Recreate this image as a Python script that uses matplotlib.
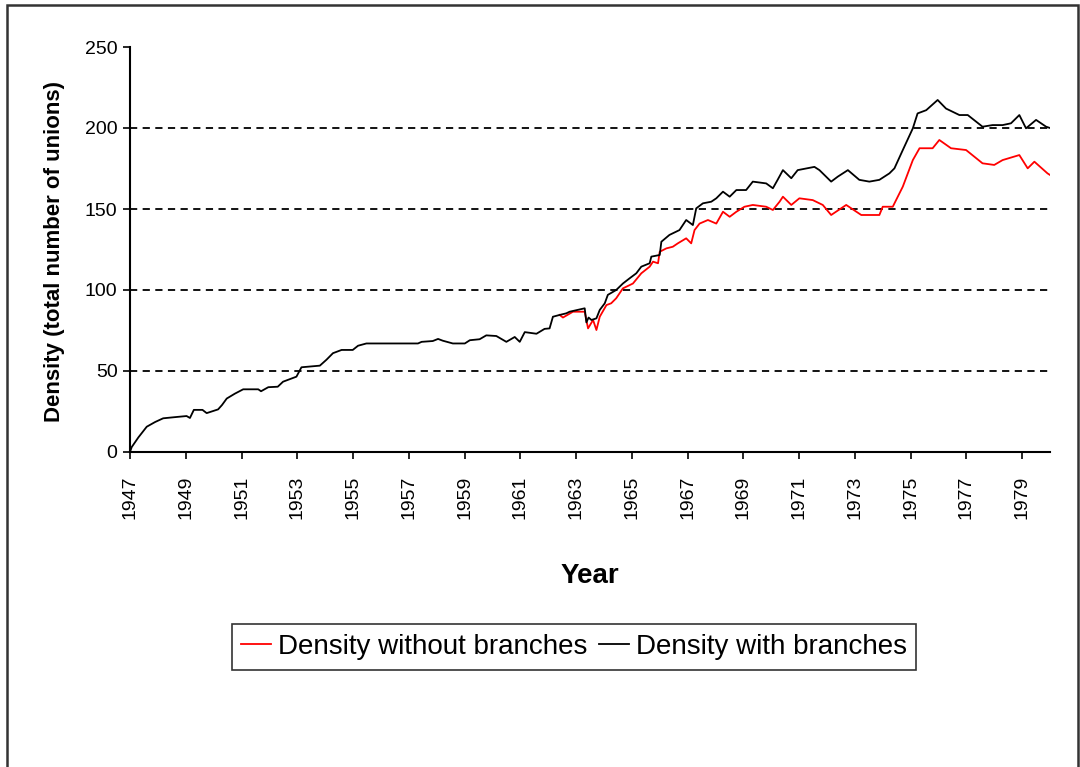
import matplotlib.pyplot as plt
import matplotlib.patches as patches
import numpy as np

plt.rcParams['font.family'] = ['Liberation Sans', 'DejaVu Sans']

# Density with branches (black)
yrs_with = [1947.0, 1947.06, 1947.3, 1947.6, 1947.9, 1948.19, 1948.6, 1949.03, 1949.15, 1949.29,
            1949.6, 1949.75, 1950.16, 1950.3, 1950.47, 1950.76, 1951.06, 1951.6, 1951.7, 1951.96,
            1952.3, 1952.49, 1952.97, 1953.15, 1953.81, 1954.05, 1954.28, 1954.59, 1954.99, 1955.18,
            1955.48, 1956.5, 1957.33, 1957.46, 1957.86, 1958.05, 1958.22, 1958.58, 1959.01, 1959.19,
            1959.54, 1959.78, 1960.14, 1960.5, 1960.8, 1960.98, 1961.16, 1961.58, 1961.87, 1962.05,
            1962.17, 1962.41, 1962.65, 1962.77, 1963.31, 1963.37, 1963.45, 1963.55, 1963.73, 1963.85,
            1964.03, 1964.14, 1964.44, 1964.68, 1964.92, 1965.16, 1965.34, 1965.64, 1965.7, 1966.0,
            1966.06, 1966.35, 1966.71, 1966.95, 1967.19, 1967.31, 1967.55, 1967.85, 1968.03, 1968.27,
            1968.51, 1968.75, 1969.1, 1969.34, 1969.82, 1970.06, 1970.23, 1970.42, 1970.72, 1970.95,
            1971.55, 1971.73, 1972.15, 1972.39, 1972.75, 1973.16, 1973.52, 1973.88, 1974.24, 1974.42,
            1974.72, 1975.08, 1975.25, 1975.56, 1975.97, 1976.27, 1976.75, 1977.05, 1977.58, 1977.94,
            1978.3, 1978.6, 1978.9, 1979.14, 1979.5, 1979.86, 1980.0]
dens_with = [0, 3, 9, 15.6, 18.5, 20.8, 21.5, 22.2, 21, 26,
             26, 24, 26.3, 29, 33, 36, 38.7, 38.7, 37.5, 40,
             40.3, 43.4, 46.5, 52.3, 53.3, 57, 61, 63, 63, 65.6,
             67, 67, 67, 68, 68.5, 69.8, 68.7, 67, 67, 69,
             69.6, 72, 71.6, 68, 71, 68, 74, 73, 76, 76.3,
             83.5, 84.6, 85.6, 86.6, 88.7, 80, 83, 81.5, 82.5, 87.7,
             91.8, 97, 100, 104, 107.2, 110.3, 114.4, 116.5, 120.6, 121.6,
             129.8, 134, 137, 143.2, 140.1, 150.4, 153.5, 154.5, 156.6, 160.7,
             157.6, 161.7, 161.7, 166.9, 165.8, 162.8, 168, 174, 169, 174,
             176, 174, 166.9, 170, 174, 168, 166.9, 168, 172, 175.1,
             186.4, 199.8, 209, 211, 217.3, 212, 208, 208, 200.8, 201.8,
             201.8, 202.9, 208, 199.8, 205, 200.8, 200]

# Density without branches (red), diverges from the black line in 1962
yrs_without = [1962.41, 1962.53, 1962.89, 1963.31, 1963.43, 1963.61, 1963.73, 1963.85, 1964.09, 1964.26,
               1964.44, 1964.68, 1965.04, 1965.34, 1965.64, 1965.76, 1965.94, 1966.0, 1966.24, 1966.47,
               1966.65, 1966.95, 1967.13, 1967.25, 1967.43, 1967.73, 1968.03, 1968.27, 1968.51, 1968.75,
               1969.04, 1969.34, 1969.82, 1970.06, 1970.3, 1970.42, 1970.72, 1971.01, 1971.49, 1971.85,
               1972.15, 1972.69, 1973.23, 1973.88, 1974.0, 1974.36, 1974.72, 1975.08, 1975.32, 1975.79,
               1976.03, 1976.45, 1976.99, 1977.58, 1978.0, 1978.3, 1978.9, 1979.2, 1979.44, 1979.91, 1980.0]
dens_without = [84.6, 83, 86.6, 86.6, 76.3, 81.5, 75.3, 83.5, 90.7, 91.8,
                94.9, 101, 104, 110.3, 114.4, 117.5, 116.5, 123.6, 125.7, 126.7,
                128.8, 131.9, 128.8, 137, 141, 143.2, 141, 148.3, 145.2, 148.3,
                151.4, 152.5, 151.4, 149.4, 154.5, 157.6, 152.5, 156.6, 155.5, 152.5,
                146.3, 152.5, 146.3, 146.3, 151.4, 151.4, 163.8, 180.2, 187.5, 187.5,
                192.6, 187.5, 186.4, 178.2, 177.2, 180.2, 183.3, 175.1, 179.2, 172, 171]

tick_years = list(range(1947, 1980, 2))
y_ticks = [0, 50, 100, 150, 200, 250]

W, H = 1080, 767
fig = plt.figure(figsize=(W / 100, H / 100), dpi=100)
ax = fig.add_axes([130 / W, 1 - 452 / H, (1050 - 130) / W, (452 - 47) / H])

ax.plot(yrs_without, dens_without, color='#ff0000', lw=1.3, label='Density without branches')
ax.plot(yrs_with, dens_with, color='black', lw=1.3, label='Density with branches')

ax.set_xlim(1947, 1980)
ax.set_ylim(0, 250)
ax.set_xticks(tick_years)
ax.set_xticklabels([str(y) for y in tick_years], rotation=90, fontsize=14)
ax.set_yticks(y_ticks)
ax.set_yticklabels([str(v) for v in y_ticks], fontsize=14)
ax.tick_params(direction='out', length=5, width=1.2, colors='black', pad=4)
ax.tick_params(axis='x', pad=12)

for v in y_ticks[1:-1]:
    ax.axhline(v, color='black', lw=1.3, ls=(0, (4, 3)), zorder=0)

for s in ['top', 'right']:
    ax.spines[s].set_visible(False)
for s in ['left', 'bottom']:
    ax.spines[s].set_linewidth(1.5)

fig.text(55 / W, 1 - 252 / H, 'Density (total number of unions)', rotation=90,
         ha='center', va='center', fontsize=16, fontweight='bold')
fig.text(590 / W, 1 - 576 / H, 'Year', ha='center', va='center', fontsize=20, fontweight='bold')

leg = fig.legend(loc='center', bbox_to_anchor=(574 / W, 1 - 647 / H), ncol=2, fontsize=20,
                 frameon=True, fancybox=False, edgecolor='black', handlelength=1.05,
                 handletextpad=0.25, columnspacing=0.45, borderpad=0.35, borderaxespad=0)
leg.get_frame().set_linewidth(1.2)

# outer chart border
fig.add_artist(patches.Rectangle((7 / W, -0.05), (1078 - 7) / W, 1.05 - 5 / H,
                                 transform=fig.transFigure, fill=False,
                                 edgecolor='#333333', lw=1.8, clip_on=False))

fig.savefig('out.png', dpi=100)
